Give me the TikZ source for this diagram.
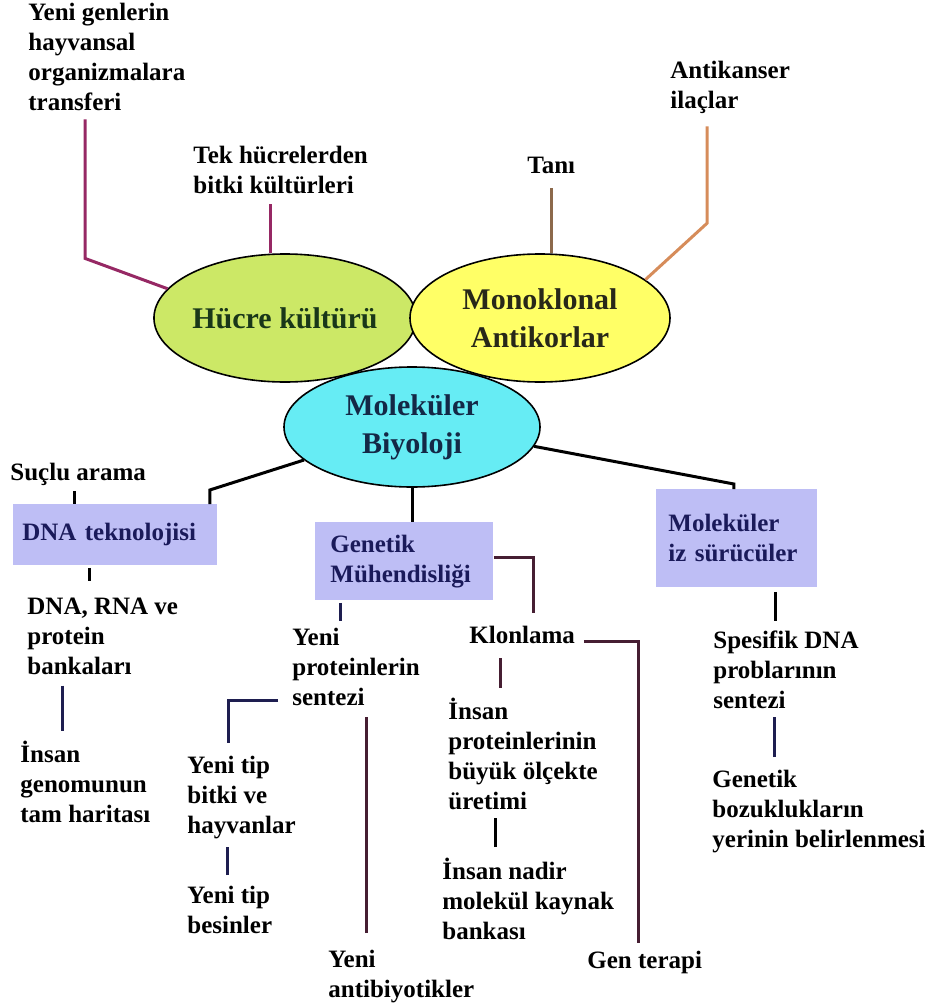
\documentclass[tikz,border=0pt]{standalone}
\usepackage{fontspec}
\setmainfont{Liberation Serif}
\usetikzlibrary{shapes.geometric,calc}
\definecolor{hucrefill}{RGB}{204,232,102}
\definecolor{monofill}{RGB}{255,255,102}
\definecolor{molfill}{RGB}{102,236,244}
\definecolor{boxfill}{RGB}{190,190,245}
\definecolor{boxtext}{RGB}{26,26,90}
\definecolor{plumline}{RGB}{150,40,100}
\definecolor{brownline}{RGB}{140,105,75}
\definecolor{orangeline}{RGB}{214,140,90}
\definecolor{navyline}{RGB}{30,30,80}
\definecolor{maroonline}{RGB}{70,30,50}
\tikzset{
		% Three fields as ellipses, branches as boxes, the rest plain text
		field node/.style={ellipse,draw,line width=0.8pt,inner sep=0,align=center,font=\fontsize{15}{19}\selectfont\bfseries},
		branch node/.style={rectangle,fill=boxfill,anchor=north west,inner ysep=0,align=left,text=boxtext,font=\fontsize{12.5}{15}\selectfont\bfseries},
		leaf node/.style={anchor=north west,inner sep=0,align=left,font=\fontsize{12.5}{15}\selectfont\bfseries},
		branch line/.style={line width=1.5pt}
	}
\begin{document}
\begin{tikzpicture}
		[x=0.5pt,y=-0.5pt]
		\useasboundingbox (0,0) rectangle (942,1006);
		% fields
		\node[field node,fill=hucrefill,text={rgb,255:red,25;green,55;blue,25},minimum width=128pt,minimum height=64pt] (hucre) at (285,318) {Hücre kültürü};
		\node[field node,fill=monofill,text={rgb,255:red,40;green,40;blue,25},minimum width=130pt,minimum height=64pt] (mono) at (540,318) {Monoklonal\\Antikorlar};
		\node[field node,fill=molfill,text={rgb,255:red,20;green,40;blue,70},minimum width=128pt,minimum height=60pt] (mol) at (412,427) {Moleküler\\Biyoloji};
		% branches
		\node[branch node,minimum width=102pt,minimum height=30.5pt,text width=93pt,inner xsep=4.5pt] (dna) at (13,504) {DNA teknolojisi};
		\node[branch node,minimum width=89pt,minimum height=39pt,text width=74pt,inner xsep=7.5pt] (gen) at (315,522) {Genetik\\Mühendisliği};
		\node[branch node,minimum width=80.5pt,minimum height=49pt,text width=68.5pt,inner xsep=6pt] (iz) at (656,489) {Moleküler\\iz sürücüler};
		% texts
		\node[leaf node] (genler) at (28,3) {Yeni genlerin\\hayvansal\\organizmalara\\transferi};
		\node[leaf node] (tek) at (193,146) {Tek hücrelerden\\bitki kültürleri};
		\node[leaf node] (tani) at (527,157) {Tanı};
		\node[leaf node] (anti) at (670,61) {Antikanser\\ilaçlar};
		\node[leaf node] (suclu) at (10,463) {Suçlu arama};
		\node[leaf node] (dnarna) at (27,598) {DNA, RNA ve\\protein\\bankaları};
		\node[leaf node] (genom) at (20,741) {İnsan\\genomunun\\tam haritası};
		\node[leaf node] (yeniprot) at (292,628) {Yeni\\proteinlerin\\sentezi};
		\node[leaf node] (klon) at (469,626) {Klonlama};
		\node[leaf node] (insanprot) at (448,698) {İnsan\\proteinlerinin\\büyük ölçekte\\üretimi};
		\node[leaf node] (nadir) at (442,858) {İnsan nadir\\molekül kaynak\\bankası};
		\node[leaf node] (bitki) at (187,756) {Yeni tip\\bitki ve\\hayvanlar};
		\node[leaf node] (besin) at (187,886) {Yeni tip\\besinler};
		\node[leaf node] (antib) at (328,950) {Yeni\\antibiyotikler};
		\node[leaf node] (genter) at (587,951) {Gen terapi};
		\node[leaf node] (spes) at (713,630) {Spesifik DNA\\problarının\\sentezi};
		\node[leaf node] (bozuk) at (712,770) {Genetik\\bozuklukların\\yerinin belirlenmesi};
		% lines above the fields
		\draw[branch line,plumline] ($(genler.south west)+(57,8)$) -- ++(0,139) -- (hucre.166);
		\draw[branch line,plumline] ($(tek.south)+(-10,10)$) coordinate (t1) -- (t1 |- hucre.north);
		\draw[branch line,brownline] ($(tani.south)+(0,14)$) coordinate (t2) -- (t2 |- mono.north);
		\draw[branch line,orangeline] ($(anti.south west)+(37,12)$) -- ++(0,97) -- (mono.20);
		% lines below
		\draw[branch line] (mol.197) -- ($(dna.north east)+(-8,-14)$) -- ($(dna.north east)+(-8,0)$);
		\draw[branch line] (mol.south) -- (mol.south |- gen.north);
		\draw[branch line] (mol.351) -- ($(iz.north)+(-3,-5)$) -- ($(iz.north)+(-3,0)$);
		\draw[branch line] ($(suclu.south)+(-3.5,5)$) coordinate (t3) -- (t3 |- dna.north);
		\draw[branch line] ($(dna.south west)+(76,2)$) -- ++(0,13);
		\draw[branch line,navyline] ($(dnarna.south west)+(35,10)$) -- ++(0,45);
		\draw[branch line,navyline] ($(gen.south west)+(25,2)$) -- ++(0,18);
		\draw[branch line,maroonline] ($(gen.east)+(0,-4)$) -- ++(40,0) -- ++(0,56);
		\draw[branch line,maroonline] ($(klon.east)+(8.5,6.5)$) -| ($(genter.north)+(-6,-8)$);
		\draw[branch line,maroonline] ($(klon.south west)+(31,14)$) -- ++(0,30);
		\draw[branch line] ($(nadir.north west)+(53,-11)$) -- ++(0,-29);
		\draw[branch line,navyline] ($(yeniprot.south west)+(-14,-6)$) -| ($(bitki.north west)+(41,-13)$);
		\draw[branch line,navyline] ($(besin.north west)+(40,-11)$) -- ++(0,-28);
		\draw[branch line,maroonline] ($(antib.north west)+(38,-17)$) -- ++(0,-216);
		\draw[branch line] ($(iz.south)+(38.5,4)$) -- ++(0,29);
		\draw[branch line,navyline] ($(bozuk.north west)+(62,-13)$) -- ++(0,-40);
	\end{tikzpicture}
\end{document}
